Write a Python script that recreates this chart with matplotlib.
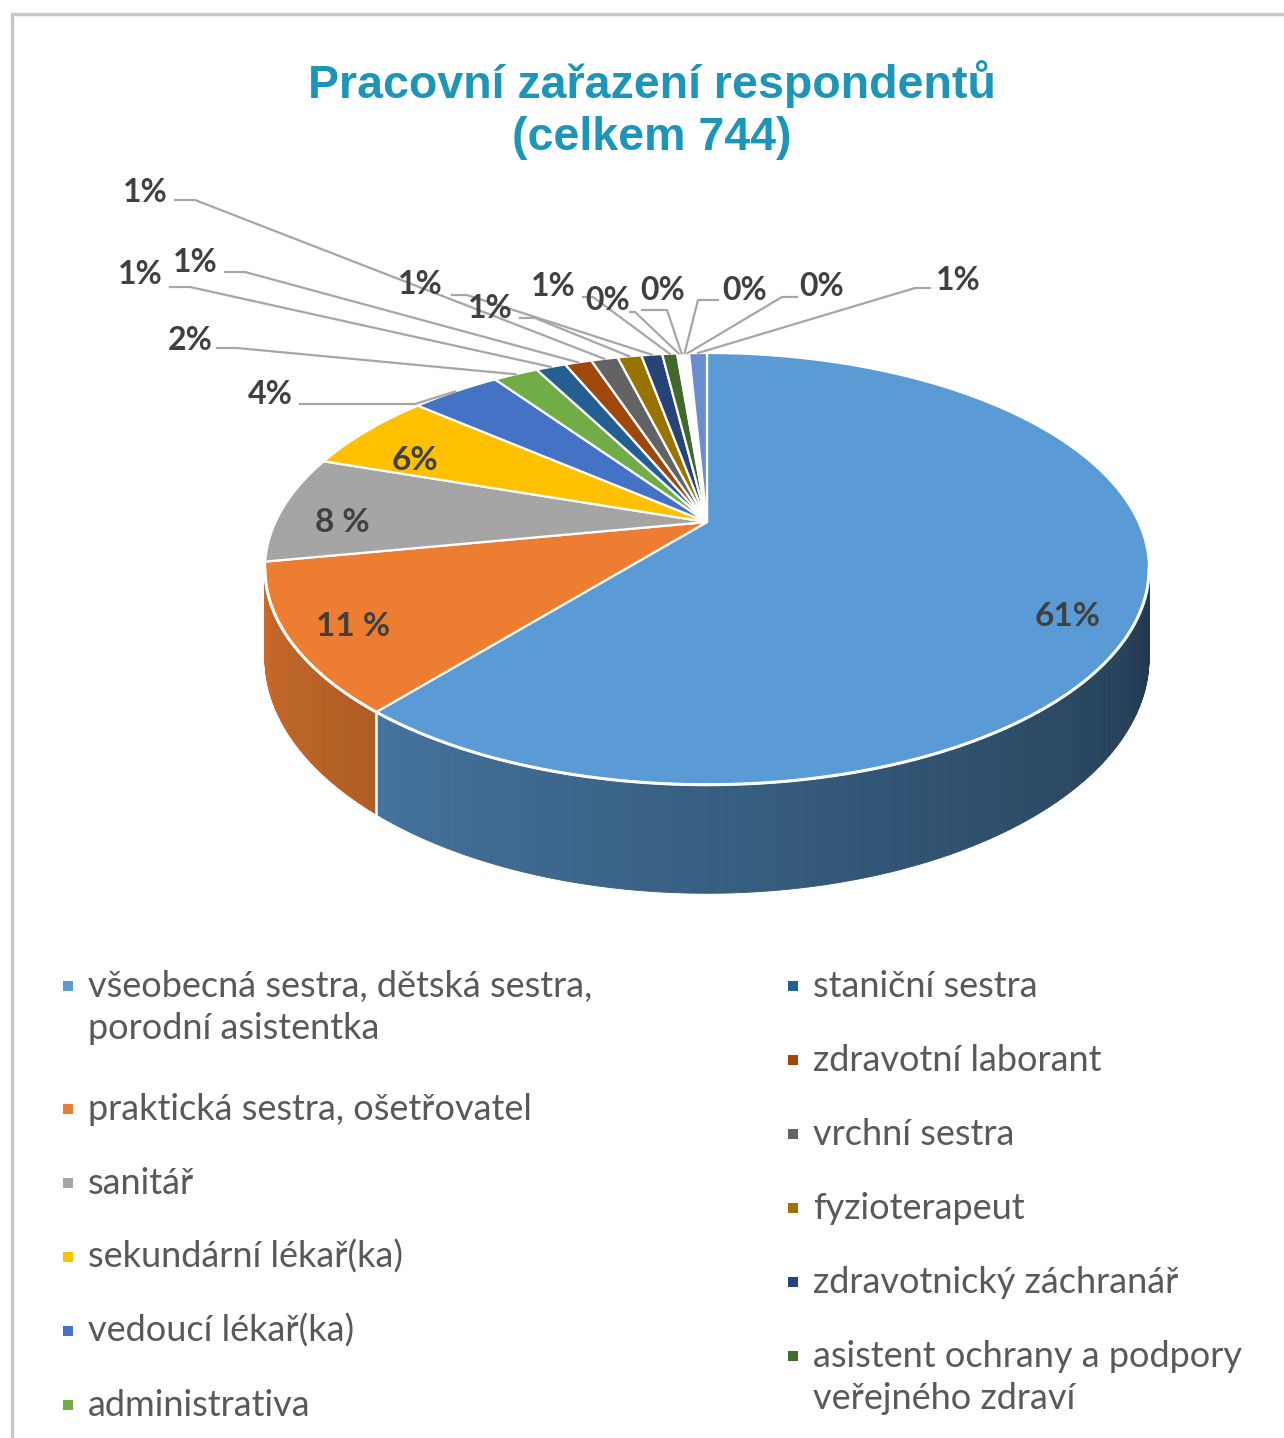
import numpy as np
import matplotlib.pyplot as plt
from matplotlib.collections import PolyCollection
from matplotlib.colors import to_rgb

TITLE = "Pracovní zařazení respondentů\n(celkem 744)"

categories = [
    "všeobecná sestra, dětská sestra,\nporodní asistentka",
    "praktická sestra, ošetřovatel",
    "sanitář",
    "sekundární lékař(ka)",
    "vedoucí lékař(ka)",
    "administrativa",
    "staniční sestra",
    "zdravotní laborant",
    "vrchní sestra",
    "fyzioterapeut",
    "zdravotnický záchranář",
    "asistent ochrany a podpory\nveřejného zdraví",
]
# the pie has 17 slices, the last five have no visible legend entry
counts = [454, 82, 60, 45, 30, 15, 10, 9, 9, 8, 7, 5, 1, 1, 1, 1, 6]
pct_labels = ["61%", "11 %", "8 %", "6%", "4%", "2%", "1%", "1%", "1%", "1%",
              "1%", "1%", "0%", "0%", "0%", "0%", "1%"]
colors = ["#5b9bd5", "#ed7d31", "#a5a5a5", "#ffc000", "#4472c4", "#70ad47",
          "#255e91", "#9e480e", "#636363", "#997300", "#264478", "#43682b",
          "#ffffff", "#ffffff", "#ffffff", "#ffffff", "#698ed0"]

# layout (pixels)
W, H = 1284, 1438
CX, CY = 707, 522
RX, RY = 431.5, 205.7
K = 0.217          # perspective
DEPTH = 85

# label layout: inner labels (no leader) and outer labels with leader lines
inner_pos = {0: (1068, 617), 1: (353, 627), 2: (342, 522), 3: (415, 460)}
outer_pos = {
    4: ((270, 395), (300, 404), 115),
    5: ((190, 340), (217, 348), 20),
    6: ((140, 275), (170, 287), 20),
    7: ((195, 262), (225, 272), 20),
    8: ((145, 192), (175, 200), 20),
    9: ((490, 308), (520, 318), 15),
    10: ((420, 285), (452, 295), 15),
    11: ((553, 287), (583, 297), 10),
    12: ((608, 300), (630, 312), 5),
    13: ((663, 290), (642, 310), 25),
    14: ((745, 290), (718, 300), -20),
    15: ((822, 287), (797, 297), -15),
    16: ((958, 280), (930, 288), -15),
}


def proj(phi, r=1.0, z=0.0):
    u = r * np.cos(phi)
    v = r * np.sin(phi)
    s = 1.0 / (1.0 + K * v)
    return CX + RX * u * s, CY - RY * v * s + DEPTH * s * z


def shade(color, f):
    return tuple(c * f for c in to_rgb(color))


fig = plt.figure(figsize=(W / 100, H / 100), dpi=100)
ax = fig.add_axes([0, 0, 1, 1])
ax.set_xlim(0, W)
ax.set_ylim(H, 0)
ax.axis("off")

# frame
ax.plot([12, 12, W + 5], [H + 5, 14, 14], color="#c8c8c8", lw=2.5,
        solid_joinstyle="miter")

ax.text(652, 110, TITLE, ha="center", va="center", fontsize=33.5,
        fontweight="bold", color="#1b95b8", family="Liberation Sans",
        linespacing=1.22)

total = sum(counts)
frac = np.array(counts) / total
edges = np.pi / 2 - 2 * np.pi * np.concatenate([[0], np.cumsum(frac)])

# side wall (front part only)
lo = -np.pi + np.arcsin(K)
hi = -np.arcsin(K)
polys, fcs = [], []
for i, c in enumerate(colors):
    a = max(edges[i + 1], lo)
    b = min(edges[i], hi)
    if a >= b:
        continue
    n = max(2, int((b - a) / np.radians(0.4)))
    ph = np.linspace(a, b, n)
    for p0, p1 in zip(ph[:-1], ph[1:]):
        x0, y0 = proj(p0)
        x1, y1 = proj(p1)
        x2, y2 = proj(p1, z=1)
        x3, y3 = proj(p0, z=1)
        polys.append([(x0, y0), (x1, y1), (x2, y2), (x3, y3)])
        pm = 0.5 * (p0 + p1)
        f = 0.86 - 0.5 * (pm - lo) / (hi - lo)
        fcs.append(shade(c, f))
ax.add_collection(PolyCollection(polys, facecolors=fcs, edgecolors=fcs,
                                 linewidths=0.6))

# white seams on the side
for e in edges:
    if lo < e < hi:
        xt, yt = proj(e)
        xb, yb = proj(e, z=1)
        ax.plot([xt, xb], [yt, yb], color="white", lw=1.8)

# top faces
for i, c in enumerate(colors):
    ph = np.linspace(edges[i], edges[i + 1], max(3, int(abs(edges[i] - edges[i + 1]) / 0.01)))
    xs, ys = proj(ph)
    pts = [(CX, CY)] + list(zip(xs, ys))
    ax.add_patch(plt.Polygon(pts, closed=True, facecolor=c, edgecolor="white",
                             lw=1.6, joinstyle="round"))

# rim highlight
ph = np.linspace(lo, hi, 300)
xs, ys = proj(ph)
ax.plot(xs, ys, color="white", lw=2.2)

# labels
for i, (x, y) in inner_pos.items():
    ax.text(x, y, pct_labels[i], ha="center", va="center", fontsize=24,
            fontweight="bold", color="#404040", family="Lato")

for i, ((tx, ty), (axx, ayy), dx) in outer_pos.items():
    pm = 0.5 * (edges[i] + edges[i + 1])
    rx, ry = proj(pm)
    ax.plot([axx, axx + dx, rx], [ayy, ayy, ry], color="#a6a6a6", lw=1.6)
    ax.text(tx, ty, pct_labels[i], ha="center", va="center", fontsize=23,
            fontweight="bold", color="#404040", family="Lato")

# legend, two columns
cols = [(68, 88, categories[:6], colors[:6]), (793, 813, categories[6:12], colors[6:12])]
for mx, tx, labs, cs in cols:
    y = 997
    for lab, c in zip(labs, cs):
        ax.scatter([mx], [y - 11], marker="s", s=60, color=c, linewidths=0)
        for k, line in enumerate(lab.split("\n")):
            ax.text(tx, y + 42 * k, line, ha="left", va="baseline", fontsize=26,
                    color="#595959", family="Lato")
        y += 74 + 49 * lab.count("\n")

fig.savefig("out.png", dpi=100, facecolor="white")
